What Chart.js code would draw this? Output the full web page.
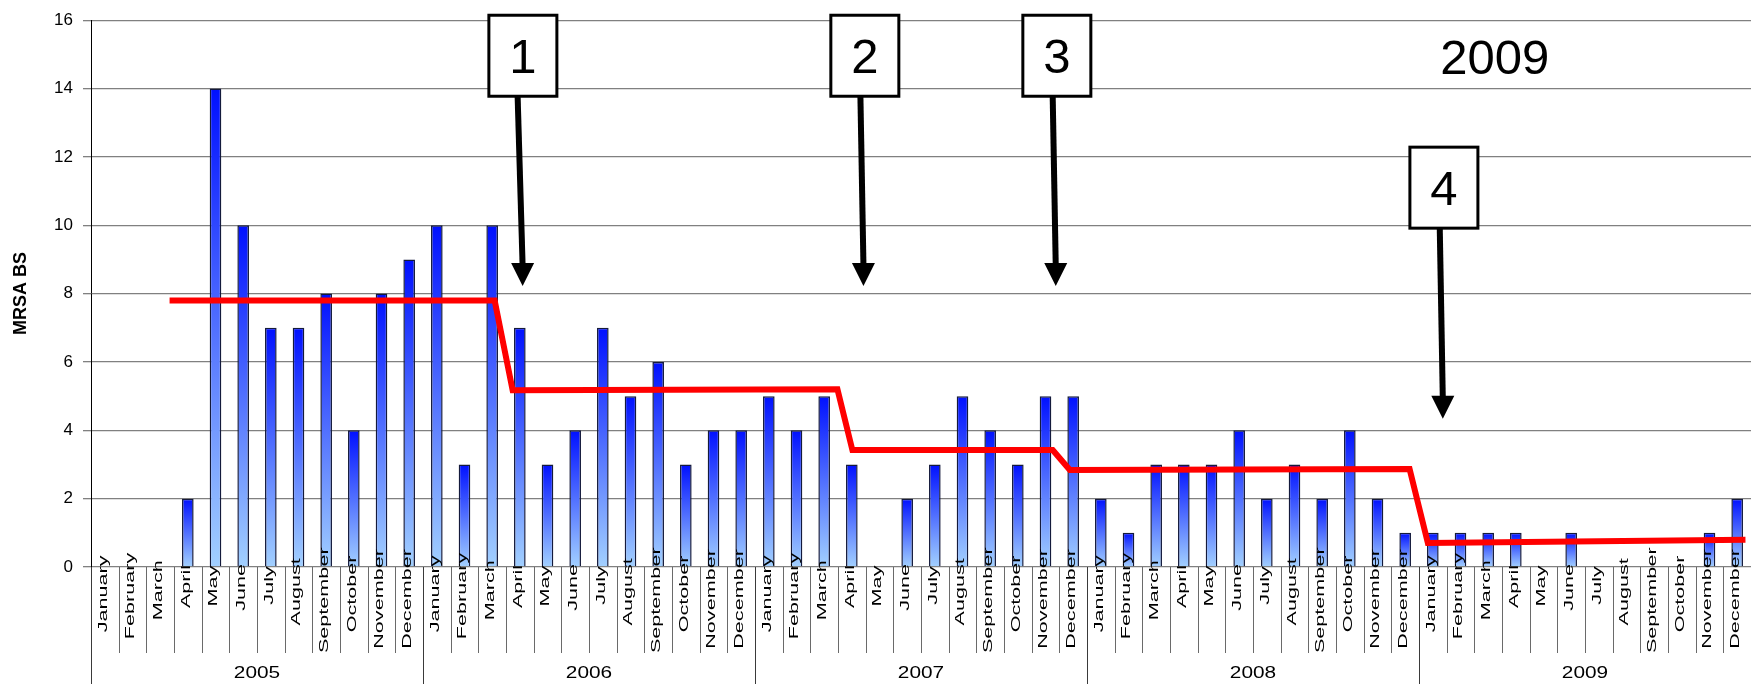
<!DOCTYPE html>
<html>
<head>
<meta charset="utf-8">
<title>MRSA BS per month</title>
<script src="https://cdn.jsdelivr.net/npm/chart.js@4.4.1/dist/chart.umd.min.js"></script>
<style>
  html, body { margin: 0; padding: 0; background: #fff; }
  canvas { display: block; }
</style>
</head>
<body>
<canvas id="mrsaChart" width="1751" height="684"></canvas>
<script>
// Monthly MRSA bacteraemia counts, January 2005 - December 2009
const months = ['January', 'February', 'March', 'April', 'May', 'June',
                'July', 'August', 'September', 'October', 'November', 'December'];
const years = ['2005', '2006', '2007', '2008', '2009'];

const cases2005 = [0, 0, 0, 2, 14, 10, 7, 7, 8, 4, 8, 9];
const cases2006 = [10, 3, 10, 7, 3, 4, 7, 5, 6, 3, 4, 4];
const cases2007 = [5, 4, 5, 3, 0, 2, 3, 5, 4, 3, 5, 5];
const cases2008 = [2, 1, 3, 3, 3, 4, 2, 3, 2, 4, 2, 1];
const cases2009 = [1, 1, 1, 1, 0, 1, 0, 0, 0, 0, 1, 2];

// Mean level per period (red step line), x in months counted from January 2005
const meanX = [2.34, 14.09, 14.74, 26.48, 27.02, 34.26, 34.88, 47.16, 47.82, 59.3];
const meanY = [7.8, 7.8, 5.17, 5.2, 3.42, 3.42, 2.84, 2.87, 0.7, 0.8];

const yTickStep = 2;
const yMax = 16;

// Numbered intervention markers: box centre, arrow start and arrow tip in chart units
const markers = [
  { label: '1', boxX: 15.11, boxY: 14.96, fromX: 14.92, tipX: 15.10, tipY: 8.22 },
  { label: '2', boxX: 27.47, boxY: 14.96, fromX: 27.31, tipX: 27.42, tipY: 8.22 },
  { label: '3', boxX: 34.41, boxY: 14.96, fromX: 34.26, tipX: 34.37, tipY: 8.22 },
  { label: '4', boxX: 48.40, boxY: 11.1, fromX: 48.25, tipX: 48.36, tipY: 4.34 }
];
const yearNote = { label: '2009', x: 50.24, y: 14.93 };

const categories = [];
years.forEach(y => months.forEach(m => categories.push(m)));
const monthlyCases = [].concat(cases2005, cases2006, cases2007, cases2008, cases2009);
const meanPoints = meanX.map((x, i) => ({ x: x, y: meanY[i] }));

const FONT = '"Liberation Sans", Arial, sans-serif';

// vertical blue gradient running from the top of each bar down to zero
function barFill(context) {
  const chart = context.chart;
  if (!chart.chartArea || context.type !== 'data') return '#3a62ff';
  const yScale = chart.scales.y;
  const top = yScale.getPixelForValue(context.raw);
  const base = yScale.getPixelForValue(0);
  if (base - top < 1) return '#3a62ff';
  const g = chart.ctx.createLinearGradient(0, top, 0, base);
  g.addColorStop(0, '#0010ff');
  g.addColorStop(1, '#a2d0ff');
  return g;
}

// two-level category axis: month names, year names and separators
const monthAxis = {
  id: 'monthAxis',
  afterDraw(chart) {
    const { ctx, chartArea, scales: { x } } = chart;
    const step = x.getPixelForValue(1) - x.getPixelForValue(0);
    const bottom = chartArea.bottom;
    ctx.save();
    ctx.lineWidth = 1;
    for (let k = 0; k < categories.length; k++) {
      const px = Math.round(x.getPixelForValue(k) - step / 2) + 0.5;
      const yearEdge = k % 12 === 0;
      ctx.strokeStyle = yearEdge ? '#3a3a3a' : '#6a6a6a';
      ctx.beginPath();
      ctx.moveTo(px, bottom);
      ctx.lineTo(px, yearEdge ? chart.height : bottom + 86);
      ctx.stroke();
    }

    ctx.fillStyle = '#000';
    ctx.font = '13.5px ' + FONT;
    ctx.textAlign = 'center';
    ctx.textBaseline = 'middle';
    const stretch = 1.6;
    categories.forEach((label, i) => {
      const len = ctx.measureText(label).width * stretch;
      ctx.save();
      ctx.translate(x.getPixelForValue(i) - 2, bottom + 10 + 0.22 * len);
      ctx.rotate(-Math.PI / 2);
      ctx.scale(stretch, 1);
      ctx.fillText(label, 0, 0);
      ctx.restore();
    });

    ctx.font = '16px ' + FONT;
    years.forEach((year, j) => {
      const mid = (x.getPixelForValue(j * 12) + x.getPixelForValue(j * 12 + 11)) / 2;
      ctx.save();
      ctx.translate(mid, chart.height - 10);
      ctx.scale(1.3, 1);
      ctx.fillText(year, 0, 0);
      ctx.restore();
    });
    ctx.restore();
  }
};

// boxes with numbers and arrows pointing down at the step changes
const markerLayer = {
  id: 'markerLayer',
  afterDatasetsDraw(chart) {
    const { ctx, scales } = chart;
    const xs = scales.xMonths, ys = scales.y;
    const boxW = 68, boxH = 81, head = 23;
    ctx.save();
    markers.forEach(m => {
      const cx = xs.getPixelForValue(m.boxX);
      const cy = ys.getPixelForValue(m.boxY);
      const boxBottom = cy + boxH / 2;
      const sx = xs.getPixelForValue(m.fromX);
      const tx = xs.getPixelForValue(m.tipX);
      const ty = ys.getPixelForValue(m.tipY);

      ctx.strokeStyle = '#000';
      ctx.lineWidth = 6;
      ctx.beginPath();
      ctx.moveTo(sx, boxBottom);
      ctx.lineTo(tx, ty - head + 2);
      ctx.stroke();
      ctx.fillStyle = '#000';
      ctx.beginPath();
      ctx.moveTo(tx - 11.5, ty - head);
      ctx.lineTo(tx + 11.5, ty - head);
      ctx.lineTo(tx, ty);
      ctx.closePath();
      ctx.fill();

      ctx.fillStyle = '#fff';
      ctx.fillRect(cx - boxW / 2, cy - boxH / 2, boxW, boxH);
      ctx.lineWidth = 3;
      ctx.strokeRect(cx - boxW / 2, cy - boxH / 2, boxW, boxH);
      ctx.fillStyle = '#000';
      ctx.font = '49px ' + FONT;
      ctx.textAlign = 'center';
      ctx.textBaseline = 'alphabetic';
      ctx.fillText(m.label, cx, cy + 17.5);
    });
    ctx.fillStyle = '#000';
    ctx.font = '49px ' + FONT;
    ctx.textAlign = 'center';
    ctx.textBaseline = 'alphabetic';
    ctx.fillText(yearNote.label, xs.getPixelForValue(yearNote.x), ys.getPixelForValue(yearNote.y) + 17.5);
    ctx.restore();
  }
};

new Chart(document.getElementById('mrsaChart'), {
  type: 'bar',
  data: {
    labels: categories,
    datasets: [
      {
        type: 'line',
        label: 'Mean',
        data: meanPoints,
        xAxisID: 'xMonths',
        yAxisID: 'y',
        borderColor: '#ff0000',
        borderWidth: 6,
        pointRadius: 0,
        fill: false,
        tension: 0,
        order: 0
      },
      {
        type: 'bar',
        label: 'MRSA BS',
        data: monthlyCases,
        xAxisID: 'x',
        yAxisID: 'y',
        backgroundColor: barFill,
        borderColor: '#141a3c',
        borderWidth: 1.5,
        borderSkipped: 'start',
        grouped: false,
        barPercentage: 0.42,
        categoryPercentage: 1,
        order: 1
      }
    ]
  },
  options: {
    responsive: false,
    animation: false,
    devicePixelRatio: 1,
    layout: { padding: { top: 14, right: 0, bottom: 0, left: 0 } },
    plugins: {
      legend: { display: false },
      tooltip: { enabled: false }
    },
    scales: {
      x: {
        type: 'category',
        offset: true,
        grid: { display: false },
        border: { display: false },
        ticks: { display: false },
        afterFit: s => { s.height = 117; }
      },
      xMonths: {
        type: 'linear',
        display: false,
        offset: false,
        bounds: 'data',
        min: -0.5,
        max: categories.length - 0.5
      },
      y: {
        min: 0,
        max: yMax,
        ticks: {
          stepSize: yTickStep,
          color: '#000',
          padding: 10,
          font: { family: FONT, size: 17 }
        },
        grid: { color: '#808080', lineWidth: 1.3, tickLength: 8 },
        border: { color: '#000', width: 1 },
        title: {
          display: true,
          text: 'MRSA BS',
          color: '#000',
          padding: { top: 10, bottom: 0 },
          font: { family: FONT, size: 18, weight: 'bold' }
        },
        afterFit: s => { s.width = 91; }
      }
    }
  },
  plugins: [monthAxis, markerLayer]
});
</script>
</body>
</html>
